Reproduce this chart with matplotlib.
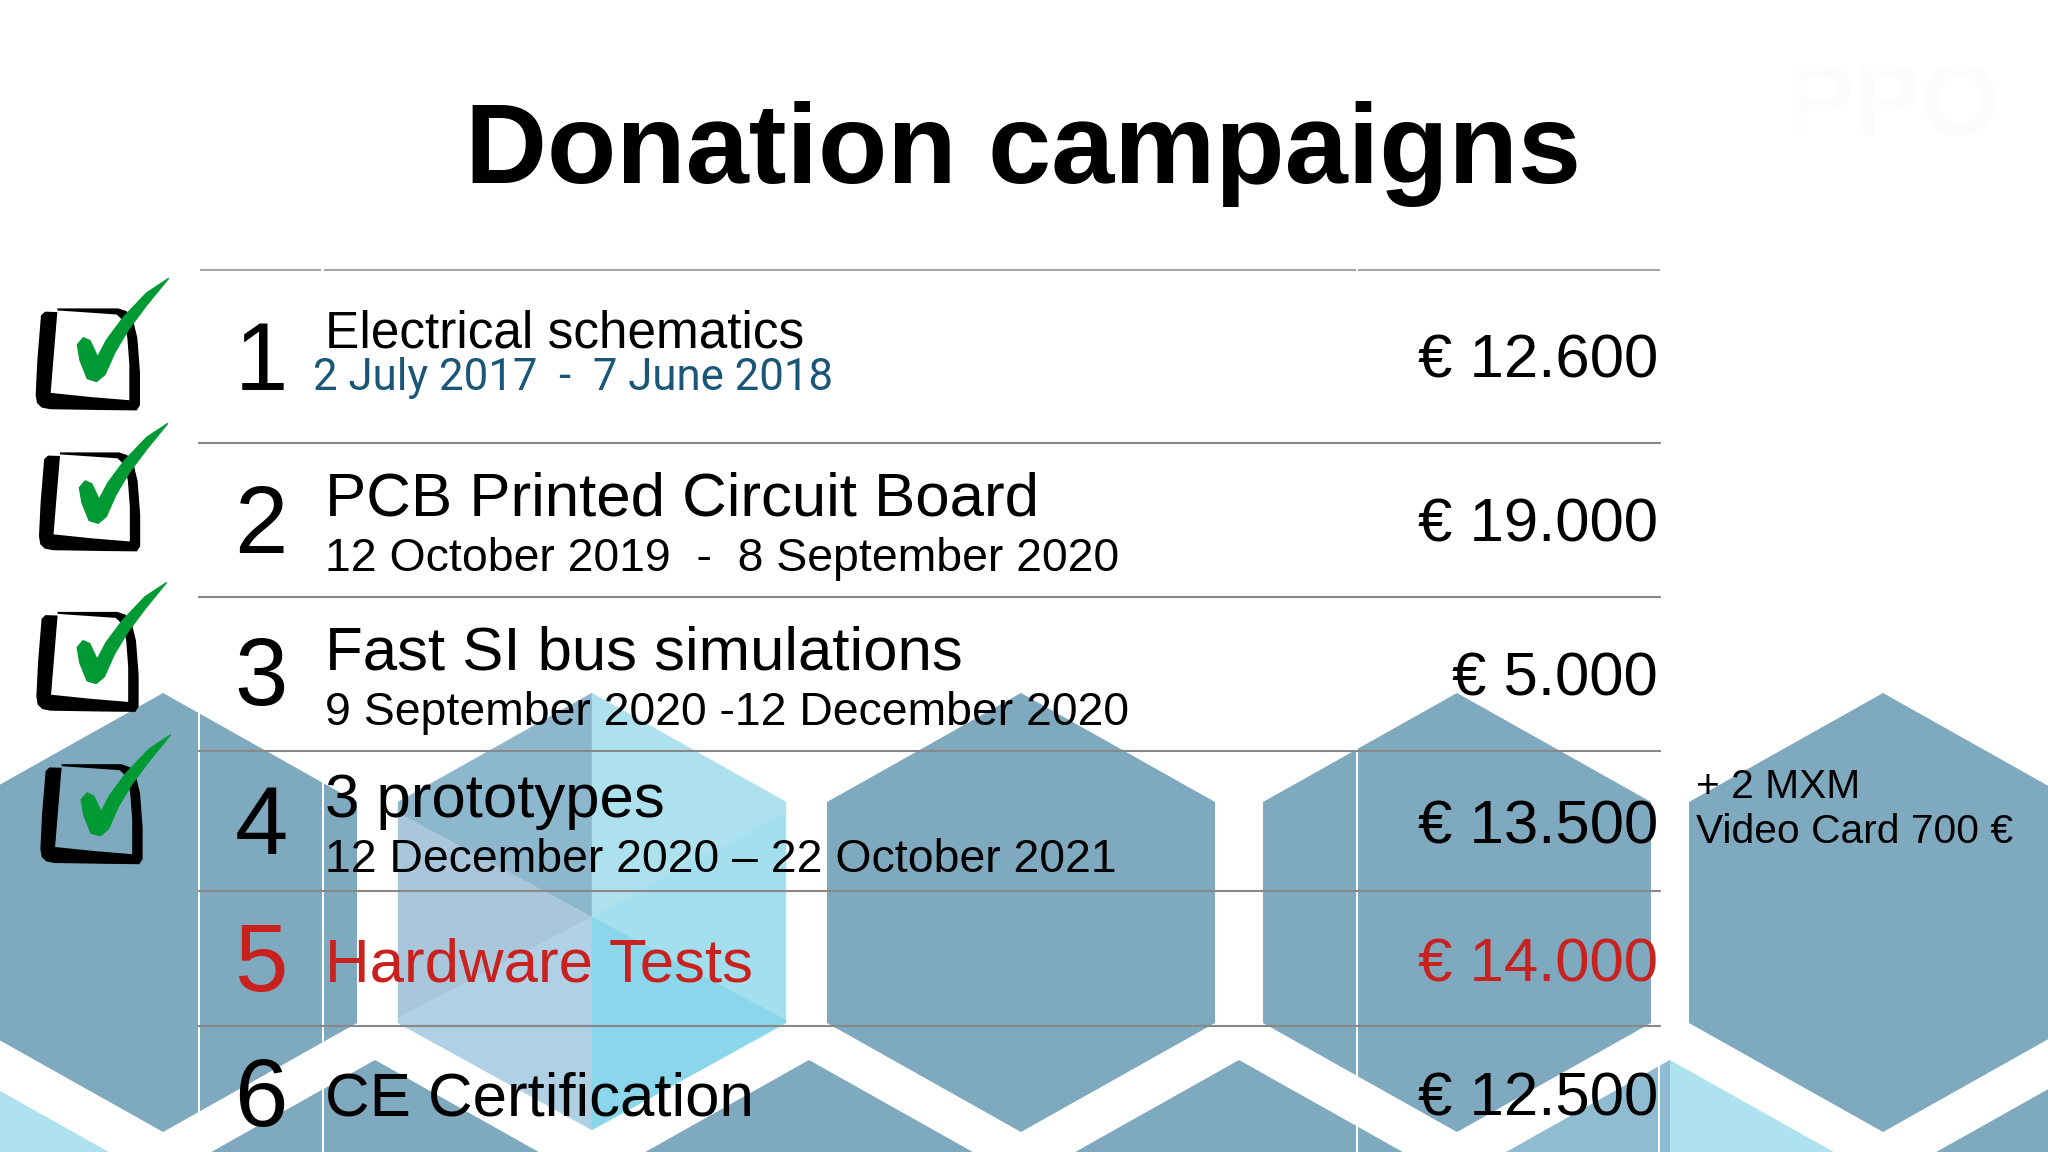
import numpy as np
import matplotlib
matplotlib.use('Agg')
import matplotlib.pyplot as plt
from matplotlib.patches import Polygon

row_numbers = ['1', '2', '3', '4', '5', '6']
titles = ['Electrical schematics', 'PCB Printed Circuit Board', 'Fast SI bus simulations',
          '3 prototypes', 'Hardware Tests', 'CE Certification']
dates = ['2 July 2017  -  7 June 2018', '12 October 2019  -  8 September 2020',
         '9 September 2020 -12 December 2020', '12 December 2020 \u2013 22 October 2021', '', '']
amounts = ['\u20ac 12.600', '\u20ac 19.000', '\u20ac 5.000', '\u20ac 13.500', '\u20ac 14.000', '\u20ac 12.500']
row_done = [True, True, True, True, False, False]

# all in reference pixels
number_base = [390, 553, 705, 854, 991, 1126]
title_base = [347, 515, 669, 817, 981, 1116]
date_base = [390, 571, 725, 872, 0, 0]
amount_base = [378, 541, 695, 843, 982, 1115]
rule_y = [270, 443, 597, 751, 891, 1026]
column_x = [198.5, 323, 1357, 1659]

BLUE = '#7fa9be'
RED = '#c9211e'
FONT = 'Liberation Sans'

plt.rcParams['font.family'] = [FONT, 'DejaVu Sans']
fig = plt.figure(figsize=(20.48, 11.52), dpi=100, facecolor='white')
ax = fig.add_axes([0, 0, 1, 1])
ax.set_xlim(0, 2048)
ax.set_ylim(1152, 0)
ax.axis('off')


def hexagon(cx, top, color):
    half, rise, side = 194, 109, 221
    pts = [(cx, top), (cx + half, top + rise), (cx + half, top + rise + side),
           (cx, top + 2 * rise + side), (cx - half, top + rise + side), (cx - half, top + rise)]
    ax.add_patch(Polygon(pts, closed=True, fc=color, ec='none', zorder=1))


# background hexagons
for cx in [163, 1021, 1457, 1883]:
    hexagon(cx, 693, BLUE)
for cx in [375, 809, 1239, 2100]:
    hexagon(cx, 1060, BLUE)
hexagon(-55, 1060, '#aee1ee')
hexagon(1670, 1060, '#aee2ee')
ax.add_patch(Polygon([(1670, 1060), (1476, 1169), (1670, 1169)], fc='#8fbcd1', ec='none', zorder=1.1))

# the pale hexagon with its facets
cx, left, right = 592, 398, 786
facets = [
    ([(cx, 693), (left, 802), (left, 813), (cx, 917)], '#8db7cd'),
    ([(left, 813), (cx, 917), (left, 1018)], '#aac6db'),
    ([(left, 1018), (cx, 917), (cx, 1130), (left, 1023)], '#b0d0e6'),
    ([(cx, 693), (right, 802), (right, 813), (cx, 917)], '#aee1ee'),
    ([(cx, 917), (right, 813), (right, 1020)], '#a3dfee'),
    ([(cx, 917), (right, 1020), (right, 1023), (cx, 1130)], '#8ad6ea'),
]
for pts, color in facets:
    ax.add_patch(Polygon(pts, closed=True, fc=color, ec=color, lw=0.3, zorder=1.2))

# table rules
for x in column_x:
    ax.plot([x, x], [270, 1152], color='white', lw=1.4, zorder=2, solid_capstyle='butt')
for y in rule_y[1:]:
    ax.plot([198, 1661], [y, y], color='#888888', lw=1.5, zorder=3, solid_capstyle='butt')
for a, b in [(200, 321), (324, 1356), (1358, 1660)]:
    ax.plot([a, b], [270, 270], color='#999999', lw=1.3, zorder=3, solid_capstyle='butt')

# title and table text
ax.text(1023, 183, 'Donation campaigns', fontsize=81.7, fontweight='bold', ha='center', va='baseline', color='black', zorder=5)
for i in range(6):
    color = RED if row_numbers[i] == '5' else 'black'
    ax.text(261, number_base[i], row_numbers[i], fontsize=69, ha='center', va='baseline', color=color, zorder=5)
    title_size = 37 if i == 0 else 44.5
    ax.text(325, title_base[i], titles[i], fontsize=title_size, ha='left', va='baseline', color=color, zorder=5)
    ax.text(1658, amount_base[i], amounts[i], fontsize=44.5, ha='right', va='baseline', color=color, zorder=5)
    if i == 0:
        ax.text(313, date_base[i], dates[i], fontsize=31.5, family=['Roboto', 'DejaVu Sans'], ha='left', va='baseline', color='#1a5678', zorder=5)
    elif dates[i]:
        ax.text(325, date_base[i], dates[i], fontsize=33.4, ha='left', va='baseline', color='black', zorder=5)

ax.text(1696, 798, '+ 2 MXM', fontsize=29.3, ha='left', va='baseline', color='black', zorder=5)
ax.text(1696, 843, 'Video Card 700 \u20ac', fontsize=29.3, ha='left', va='baseline', color='black', zorder=5)

# faint logo top right
ax.text(1785, 135, 'PPO', fontsize=73, fontweight='bold', ha='left', va='baseline', color='#fcfcfc', zorder=0.5)

# hand drawn tick boxes, outline traced once and reused
box_shape = np.array([(172, 143), (250, 143), (355, 143), (380, 150), (400, 175), (412, 215), (420, 300), (420, 380),
                      (410, 393), (300, 392), (150, 390), (125, 386), (111, 375), (107, 355), (112, 270), (123, 160),
                      (135, 151), (172, 152), (162, 250), (152, 350), (270, 360), (388, 368), (388, 280), (382, 215),
                      (372, 175), (350, 158), (280, 154), (172, 148)], dtype=float)
tick_shape = np.array([(505, 70), (440, 105), (370, 165), (320, 220), (293, 262), (270, 222), (250, 215), (232, 232),
                       (240, 270), (262, 315), (290, 322), (315, 305), (345, 250), (385, 195), (440, 135)], dtype=float)
box_pos = [(36, 278.6, 1.0), (39.3, 423.5, 0.97), (36.7, 582.7, 0.98), (40.7, 735, 0.98)]


def place(shape, x0, y0, s):
    out = np.zeros_like(shape)
    out[:, 0] = x0 + s * (shape[:, 0] - 108) / 3
    out[:, 1] = y0 + s * (shape[:, 1] - 70) / 2.45
    return out


for (x0, y0, s), done in zip(box_pos, row_done):
    ax.add_patch(Polygon(place(box_shape, x0, y0, s), closed=True, fc='black', ec='none', zorder=6))
    if done:
        ax.add_patch(Polygon(place(tick_shape, x0, y0, s), closed=True, fc='#009933', ec='#009933', lw=1, joinstyle='round', zorder=7))

fig.savefig('out.png', dpi=100)
